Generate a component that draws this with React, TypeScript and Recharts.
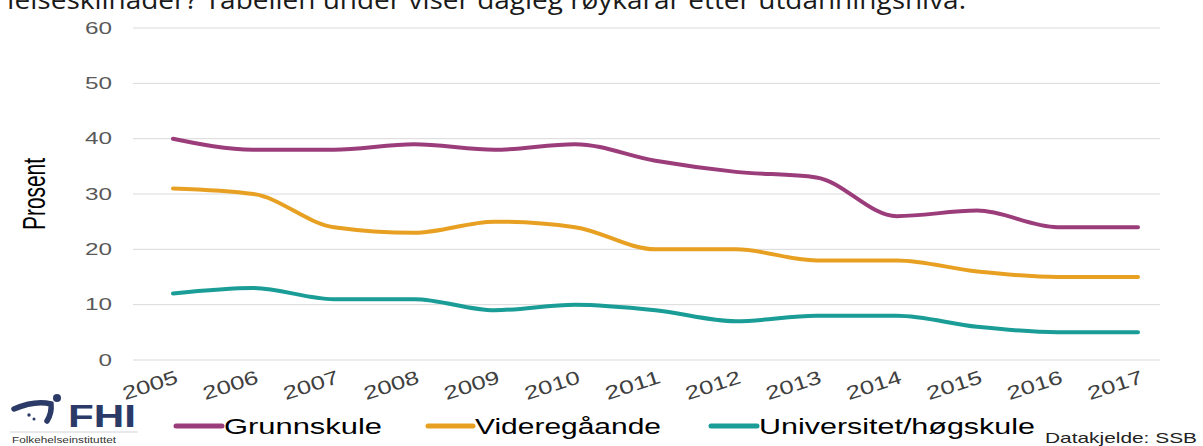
import React from "react";
import { LineChart, Line, XAxis, YAxis, CartesianGrid } from "recharts";

const years = ["2005", "2006", "2007", "2008", "2009", "2010", "2011", "2012", "2013", "2014", "2015", "2016", "2017"];
const grunnskule = [40, 38, 38, 39, 38, 39, 36, 34, 33, 26, 27, 24, 24];
const videregaande = [31, 30, 24, 23, 25, 24, 20, 20, 18, 18, 16, 15, 15];
const universitet = [12, 13, 11, 11, 9, 10, 9, 7, 8, 8, 6, 5, 5];
const yTicks = [0, 10, 20, 30, 40, 50, 60];

const series = [
  { key: "grunnskule", name: "Grunnskule", color: "#9c3d7b", values: grunnskule },
  { key: "videregaande", name: "Videregåande", color: "#e8a023", values: videregaande },
  { key: "universitet", name: "Universitet/høgskule", color: "#1a9c97", values: universitet },
];

// legend placement
const legendPos = [
  { x1: 176, x2: 222, tx: 224, tw: 158 },
  { x1: 428, x2: 473, tx: 475, tw: 186 },
  { x1: 711, x2: 757, tx: 759, tw: 276 },
];

const data = years.map((year, i) => {
  const row: Record<string, string | number> = { year };
  series.forEach((s) => (row[s.key] = s.values[i]));
  return row;
});

const font = "'Liberation Sans', Arial, sans-serif";

function YTick(props: any) {
  const { x, y, payload } = props;
  const label = String(payload.value);
  return (
    <text
      x={x - 3}
      y={y}
      dy="0.35em"
      textAnchor="end"
      fontFamily={font}
      fontSize={16}
      fill="#595959"
      textLength={label.length * 13.5}
      lengthAdjust="spacingAndGlyphs"
    >
      {label}
    </text>
  );
}

function XTick(props: any) {
  const { x, y, payload } = props;
  return (
    <text
      transform={`translate(${x - 23},${y + 17}) rotate(-18)`}
      textAnchor="middle"
      dy="0.35em"
      fontFamily={font}
      fontSize={19}
      fill="#404040"
      textLength={57}
      lengthAdjust="spacingAndGlyphs"
    >
      {payload.value}
    </text>
  );
}

export default function App() {
  return (
    <div style={{ position: "relative", width: 1203, height: 446, overflow: "hidden", background: "#fff" }}>
      <style>{`body{margin:0}`}</style>
      <div style={{ position: "absolute", left: 0, top: 0 }}>
        <LineChart width={1203} height={446} data={data} margin={{ top: 28, right: 43, left: 0, bottom: 56 }}>
          <CartesianGrid vertical={false} stroke="#d9d9d9" strokeWidth={1} />
          <XAxis
            dataKey="year"
            height={30}
            axisLine={false}
            tickLine={false}
            interval={0}
            padding={{ left: 40, right: 22 }}
            tick={<XTick />}
          />
          <YAxis
            width={133}
            domain={[0, 60]}
            ticks={yTicks}
            axisLine={false}
            tickLine={false}
            tickMargin={12}
            tick={<YTick />}
          />
          {series.map((s) => (
            <Line
              key={s.key}
              type="monotone"
              dataKey={s.key}
              name={s.name}
              stroke={s.color}
              strokeWidth={4}
              strokeLinecap="round"
              dot={false}
              activeDot={false}
              isAnimationActive={false}
            />
          ))}
        </LineChart>
      </div>
      <svg width={1203} height={446} style={{ position: "absolute", left: 0, top: 0, pointerEvents: "none" }}>
        <text
          x={-6}
          y={9}
          fontFamily="'Open Sans', sans-serif"
          fontSize={25}
          fill="#1a1a1a"
          textLength={972}
          lengthAdjust="spacingAndGlyphs"
        >
          Helseskilnader? Tabellen under viser dagleg røykarar etter utdanningsnivå.
        </text>
        <text
          transform="translate(45,194) scale(1.5,1) rotate(-90)"
          textAnchor="middle"
          fontFamily={font}
          fontSize={21}
          fill="#000"
          textLength={72}
          lengthAdjust="spacingAndGlyphs"
        >
          Prosent
        </text>
        {series.map((s, i) => (
          <g key={s.key}>
            <line x1={legendPos[i].x1} x2={legendPos[i].x2} y1={426} y2={426} stroke={s.color} strokeWidth={5} strokeLinecap="round" />
            <text
              x={legendPos[i].tx}
              y={434}
              fontFamily={font}
              fontSize={22}
              fill="#000"
              textLength={legendPos[i].tw}
              lengthAdjust="spacingAndGlyphs"
            >
              {s.name}
            </text>
          </g>
        ))}
        <text x={1045} y={443} fontFamily={font} fontSize={15} fill="#222" textLength={152} lengthAdjust="spacingAndGlyphs">
          Datakjelde: SSB
        </text>
        {/* FHI logo */}
        <path d="M14 409 Q35 400 51 404 Q52 413 47 421" fill="none" stroke="#2b3a67" strokeWidth={5.5} strokeLinecap="round" />
        <circle cx={57} cy={398} r={4} fill="#2b3a67" />
        <circle cx={29} cy={415} r={1.7} fill="#2b3a67" />
        <circle cx={34} cy={419} r={1.5} fill="#2b3a67" />
        <text x={68} y={427} fontFamily={font} fontWeight="bold" fontSize={31} fill="#2b3a67" textLength={68} lengthAdjust="spacingAndGlyphs">
          FHI
        </text>
        <line x1={10} x2={138} y1={432} y2={432} stroke="#c8c8d0" strokeWidth={0.8} />
        <text x={12} y={443} fontFamily={font} fontSize={9.5} fill="#333" textLength={104} lengthAdjust="spacingAndGlyphs">
          Folkehelseinstituttet
        </text>
      </svg>
    </div>
  );
}
